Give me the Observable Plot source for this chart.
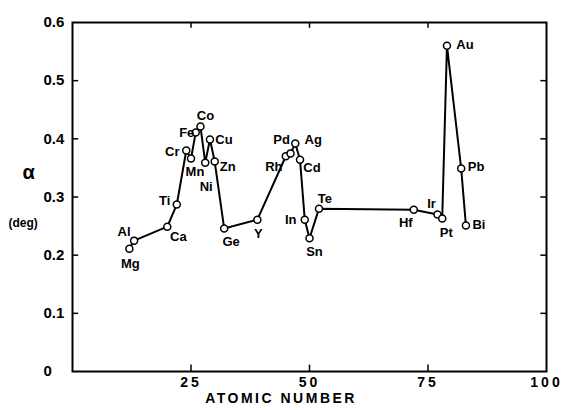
<!DOCTYPE html>
<html>
<head>
<meta charset="utf-8">
<script src="https://cdn.jsdelivr.net/npm/d3@7"></script>
<script src="https://cdn.jsdelivr.net/npm/@observablehq/plot@0.6"></script>
<style>
  html, body { margin: 0; padding: 0; background: #fff; }
  svg { display: block; }
  g[aria-label="x-axis tick label"] text { letter-spacing: 3px; }
</style>
</head>
<body>
<div id="chart"></div>
<script>
// Data
const elements = ["Mg","Al","Ca","Ti","Cr","Mn","Fe","Co","Ni","Cu","Zn","Ge","Y","Rh","Pd","Ag","Cd","In","Sn","Te","Hf","Ir","Pt","Au","Pb","Bi"];
const atomicNumbers = [12,13,20,22,24,25,26,27,28,29,30,32,39,45,46,47,48,49,50,52,72,77,78,79,82,83];
const alphaDeg = [0.211,0.225,0.249,0.287,0.380,0.366,0.411,0.421,0.359,0.399,0.361,0.246,0.261,0.370,0.375,0.392,0.364,0.261,0.229,0.280,0.278,0.270,0.263,0.560,0.349,0.251];
const xTicks = [25, 50, 75, 100];
const yTicks = [0, 0.1, 0.2, 0.3, 0.4, 0.5, 0.6];

// Label placement (pixel offsets from each point)
const labelOffsets = {
  Mg:[1,15], Al:[-10,-9], Ca:[11,10], Ti:[-12,-4], Cr:[-14,1], Mn:[4,13],
  Fe:[-9,0], Co:[5,-11], Ni:[1,24], Cu:[14,0], Zn:[13,5], Ge:[7,13],
  Y:[1,14], Rh:[-12,11], Pd:[-9,-14], Ag:[18,-4], Cd:[12,8], In:[-14,0],
  Sn:[5,14], Te:[6,-10], Hf:[-8,13], Ir:[-6,-11], Pt:[4,14], Au:[18,-1],
  Pb:[15,-2], Bi:[13,-1]
};

const data = elements.map((el, i) => ({el, z: atomicNumbers[i], a: alphaDeg[i]}));
const font = "Liberation Sans, Arial, sans-serif";

const labelMarks = data.map(d => Plot.text([d], {
  x: "z", y: "a", text: "el",
  dx: labelOffsets[d.el][0], dy: labelOffsets[d.el][1],
  fontSize: 13, fontWeight: "bold", fill: "black"
}));

const innerTicks = yTicks.filter(t => t > 0 && t < 0.6);
const innerX = xTicks.filter(t => t < 100);

const chart = Plot.plot({
  width: 566,
  height: 410,
  marginLeft: 72,
  marginRight: 20,
  marginTop: 22,
  marginBottom: 39,
  style: {fontFamily: font, background: "white"},
  x: {domain: [0, 100]},
  y: {domain: [0, 0.6]},
  marks: [
    Plot.frame({stroke: "black", strokeWidth: 2}),
    // inward ticks
    Plot.ruleY(innerTicks, {y: d => d, x1: 0, x2: 1.3, stroke: "black", strokeWidth: 1.5}),
    Plot.ruleY(innerTicks, {y: d => d, x1: 98.8, x2: 100, stroke: "black", strokeWidth: 1.5}),
    Plot.ruleX(innerX, {x: d => d, y1: 0, y2: 0.011, stroke: "black", strokeWidth: 1.5}),
    Plot.ruleX(innerX, {x: d => d, y1: 0.59, y2: 0.6, stroke: "black", strokeWidth: 1.5}),
    Plot.axisY(yTicks, {
      anchor: "left", tickSize: 0, tickPadding: 29, textAnchor: "start",
      tickFormat: d => d === 0 ? "0" : d.toFixed(1),
      fontSize: 15, fontWeight: "bold", label: null
    }),
    Plot.axisX(xTicks, {
      anchor: "bottom", tickSize: 0, tickPadding: 6,
      tickFormat: d => String(d), fontSize: 14, fontWeight: "bold", label: null
    }),
    Plot.text(["ATOMIC NUMBER"], {
      x: 44, frameAnchor: "bottom", dy: 31, fontSize: 14, fontWeight: "bold", fill: "black"
    }),
    Plot.text(["α"], {frameAnchor: "left", y: 0.342, dx: -50, textAnchor: "start", fontSize: 20, fontWeight: "bold", fill: "black"}),
    Plot.text(["(deg)"], {frameAnchor: "left", y: 0.255, dx: -64, textAnchor: "start", fontSize: 12, fontWeight: "bold", fill: "black"}),
    Plot.line(data, {x: "z", y: "a", stroke: "black", strokeWidth: 2}),
    Plot.dot(data, {x: "z", y: "a", r: 3.5, fill: "white", stroke: "black", strokeWidth: 1.5}),
    ...labelMarks
  ]
});
d3.select(chart).selectAll("text").filter(function() { return this.textContent === "ATOMIC NUMBER"; })
  .style("letter-spacing", "2.5px");
document.getElementById("chart").append(chart);
</script>
</body>
</html>
